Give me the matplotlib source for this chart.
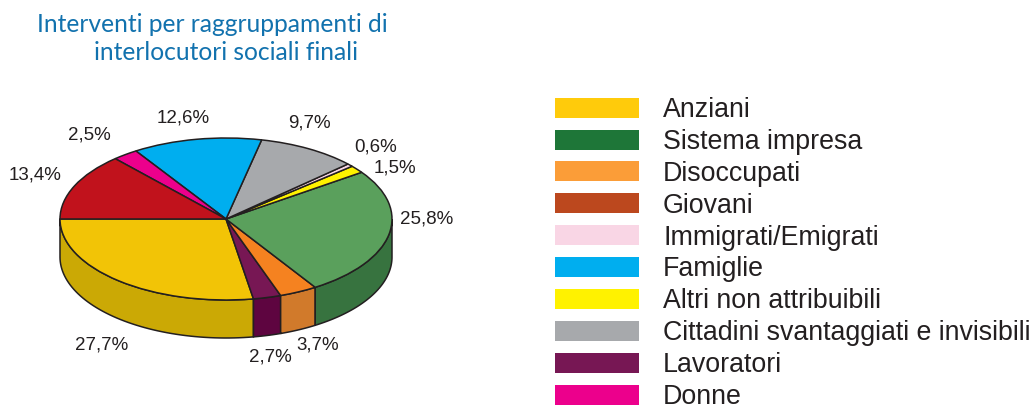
import numpy as np
import matplotlib
matplotlib.use("Agg")
import matplotlib.pyplot as plt
from matplotlib.patches import Patch

W, H = 1035, 408

# dati (ordine della legenda)
categorie = ["Anziani", "Sistema impresa", "Disoccupati", "Giovani", "Immigrati/Emigrati",
             "Famiglie", "Altri non attribuibili", "Cittadini svantaggiati e invisibili",
             "Lavoratori", "Donne"]
valori = [27.7, 25.8, 3.7, 13.4, 0.6, 12.6, 1.5, 9.7, 2.7, 2.5]

col_legenda = ["#FFCB0B", "#1E7638", "#FB9D38", "#BC481E", "#F9D6E5",
               "#00AEEF", "#FFF200", "#A7A9AC", "#771754", "#EC008C"]
col_sopra = ["#F2C406", "#5AA05C", "#F58220", "#C1121C", "#F9D6E5",
             "#00AEEF", "#FFF200", "#A7A9AC", "#771754", "#EC008C"]
col_lato = ["#CBA905", "#37733F", "#D17A2B", "#8E0E14", "#C9A9B8",
            "#0087BA", "#C9BE00", "#808285", "#5E0540", "#B0006A"]

# ordine delle fette sulla torta, da sinistra in senso antiorario
ordine = [0, 8, 2, 1, 6, 4, 7, 5, 9, 3]

# posizione delle etichette in pixel, stesso ordine delle categorie
pos_etichette = [(102, 345), (427, 219), (318, 345), (35, 175), (376, 147),
                 (183, 118), (395, 168), (309, 123), (270, 357), (89, 135)]

cx, cy, rx, ry, prof = 226, 219, 166, 81, 38
LINEA = "#231F20"

fig = plt.figure(figsize=(W / 100, H / 100), dpi=100)
ax = fig.add_axes([0, 0, 1, 1])

wedges, _ = ax.pie([valori[i] for i in ordine], colors=[col_sopra[i] for i in ordine],
                   startangle=180, counterclock=True, radius=1,
                   wedgeprops=dict(edgecolor=LINEA, linewidth=1.1, zorder=3))

# la torta diventa un'ellisse con i limiti degli assi
ax.set_aspect("auto")
ax.set_xlim(-cx / rx, (W - cx) / rx)
ax.set_ylim((cy - H) / ry, cy / ry)
ax.axis("off")

# bordo laterale
d = prof / ry
for w, i in zip(wedges, ordine):
    t1, t2 = w.theta1, w.theta2
    a, b = max(t1, 180), min(t2, 360)
    if a >= b:
        continue
    t = np.radians(np.linspace(a, b, 60))
    xs = np.cos(t)
    ys = np.sin(t)
    ax.fill(np.r_[xs, xs[::-1]], np.r_[ys, ys[::-1] - d], facecolor=col_lato[i],
            edgecolor=LINEA, linewidth=1.1, zorder=2)

# titolo
fig.text(212 / W, 1 - 25 / H, "Interventi per raggruppamenti di", ha="center", va="center",
         family="Lato", fontsize=17.7, color="#1272AE")
fig.text(226 / W, 1 - 53 / H, "interlocutori sociali finali", ha="center", va="center",
         family="Lato", fontsize=17.7, color="#1272AE")

# percentuali
for v, (px, py) in zip(valori, pos_etichette):
    fig.text(px / W, 1 - py / H, f"{v:.1f}%".replace(".", ","), ha="center", va="center",
             family="Liberation Sans", fontsize=13.5, color=LINEA)

# legenda
maniglie = [Patch(facecolor=c, edgecolor="none", label=n) for c, n in zip(col_legenda, categorie)]
fig.legend(handles=maniglie, loc="upper left", bbox_to_anchor=(555 / W, 1 - 97 / H),
           frameon=False, prop=dict(family="Liberation Sans", size=19.3), labelcolor=LINEA,
           handlelength=3.13, handleheight=0.77, handletextpad=0.9, labelspacing=0.22,
           borderpad=0, borderaxespad=0)

fig.savefig("out.png", dpi=100)
